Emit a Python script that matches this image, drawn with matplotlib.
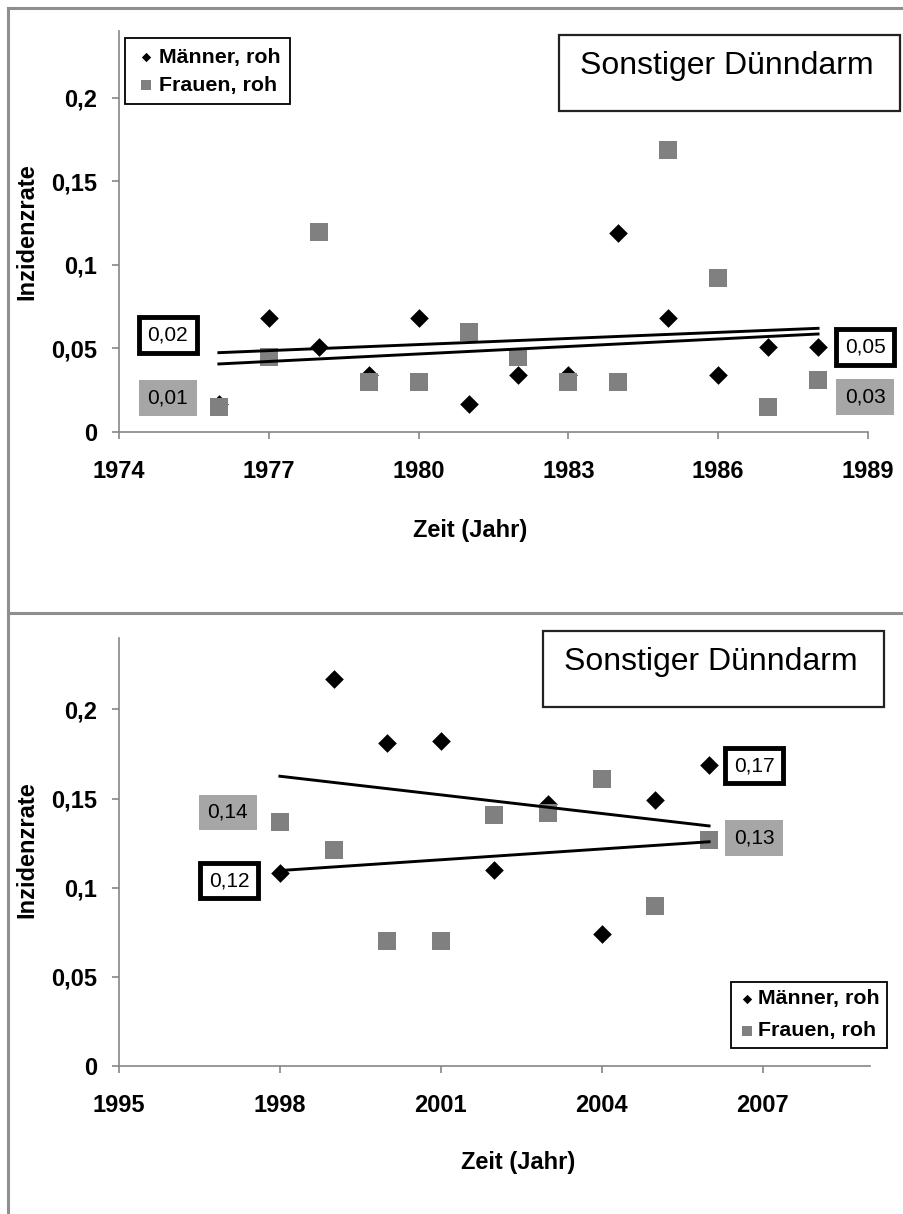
import numpy as np
import matplotlib
matplotlib.use('Agg')
from matplotlib import pyplot as plt
from matplotlib.patches import Rectangle
from matplotlib.lines import Line2D

plt.rcParams['font.family'] = ['Liberation Sans', 'DejaVu Sans']

# --- Daten ---
years_a = np.arange(1976, 1989)
men_a = [0.017, 0.068, 0.051, 0.034, 0.068, 0.017, 0.034, 0.034, 0.119, 0.068, 0.034, 0.051, 0.051]
women_a = [0.015, 0.045, 0.120, 0.030, 0.030, 0.060, 0.045, 0.030, 0.030, 0.169, 0.092, 0.015, 0.031]

years_b = np.arange(1998, 2007)
men_b = [0.108, 0.217, 0.181, 0.182, 0.110, 0.147, 0.074, 0.149, 0.169]
women_b = [0.137, 0.121, 0.070, 0.070, 0.141, 0.142, 0.161, 0.090, 0.127]

yticks = [0, 0.05, 0.1, 0.15, 0.2]
ytick_labels = ['0', '0,05', '0,1', '0,15', '0,2']
xticks_a = [1974, 1977, 1980, 1983, 1986, 1989]
xticks_b = [1995, 1998, 2001, 2004, 2007]

title = 'Sonstiger Dünndarm'
series_names = ['Männer, roh', 'Frauen, roh']
xlabel = 'Zeit (Jahr)'
ylabel = 'Inzidenzrate'

# Beschriftungen an den Trendlinien: Text, x, y, Stil
labels_a = [('0,02', 1974.98, 0.058, 'frame'), ('0,01', 1974.98, 0.0204, 'gray'),
            ('0,05', 1988.94, 0.0509, 'frame'), ('0,03', 1988.94, 0.021, 'gray')]
labels_b = [('0,14', 1997.03, 0.1422, 'gray'), ('0,12', 1997.05, 0.104, 'frame'),
            ('0,17', 2006.84, 0.1685, 'frame'), ('0,13', 2006.84, 0.1277, 'gray')]

W, H = 904, 1214
fig = plt.figure(figsize=(W/100, H/100), dpi=100)

def fx(px): return px / W
def fy(py): return 1 - py / H

# graue Rahmen der beiden Diagramme
frame_col = '#8f8f8f'
for xs, ys in [([8, W], [8, 8]), ([8, 8], [8, H]), ([8, W], [613, 613])]:
    fig.add_artist(Line2D([fx(x) for x in xs], [fy(y) for y in ys], color=frame_col, lw=2.2,
                          transform=fig.transFigure))

def panel(rect, years, men, women, xticks, xlim, labels, leg_loc, leg_xy, leg_kw,
          title_rect, title_xy, xl_xy, yl_xy):
    ax = fig.add_axes(rect)
    # Trendlinien (lineare Regression)
    for vals in (men, women):
        k, d = np.polyfit(years, vals, 1)
        xx = np.array([years[0], years[-1]])
        ax.plot(xx, k*xx + d, color='black', lw=2.1, zorder=4)
    hm = ax.scatter(years, men, marker='D', s=9.5**2, color='black', zorder=2, linewidths=0)
    hw = ax.scatter(years, women, marker='s', s=13.5**2, color='#808080', zorder=3, linewidths=0)
    ax.set_xlim(*xlim)
    ax.set_ylim(0, 0.24)
    ax.set_xticks(xticks)
    ax.set_xticklabels([str(x) for x in xticks], fontsize=17, fontweight='bold')
    ax.set_yticks(yticks)
    ax.set_yticklabels(ytick_labels, fontsize=17, fontweight='bold')
    for s in ['top', 'right']:
        ax.spines[s].set_visible(False)
    for s in ['left', 'bottom']:
        ax.spines[s].set_color('#868686')
        ax.spines[s].set_linewidth(1.2)
    ax.tick_params(axis='both', direction='out', length=5, width=1.2, color='#868686')
    ax.tick_params(axis='x', pad=15)
    ax.tick_params(axis='y', pad=11)
    ax.set_xlabel(xlabel, fontsize=17, fontweight='bold', va='center')
    ax.xaxis.set_label_coords(*xl_xy)
    ax.set_ylabel(ylabel, fontsize=17, fontweight='bold', va='center')
    ax.yaxis.set_label_coords(*yl_xy)
    for txt, x, y, style in labels:
        if style == 'frame':
            bb = dict(boxstyle='square,pad=0.4', fc='white', ec='black', lw=3.5)
        else:
            bb = dict(boxstyle='square,pad=0.4', fc='#a6a6a6', ec='none')
        ax.text(x, y, txt, ha='center', va='center', fontsize=15, bbox=bb, zorder=5)
    leg = ax.legend([hm, hw], series_names, loc=leg_loc, bbox_to_anchor=leg_xy,
                    bbox_transform=fig.transFigure, borderaxespad=0, fancybox=False,
                    edgecolor='black', framealpha=1, prop=dict(weight='bold', size=15.4),
                    handletextpad=0.1, markerscale=0.5, scatterpoints=1, **leg_kw)
    leg.get_frame().set_linewidth(1.3)
    x0, y0, x1, y1 = title_rect
    fig.add_artist(Rectangle((fx(x0), fy(y1)), fx(x1) - fx(x0), fy(y0) - fy(y1), fill=False,
                             ec='#222222', lw=1.6, transform=fig.transFigure))
    fig.text(fx(title_xy[0]), fy(title_xy[1]), title, ha='center', va='center', fontsize=23)
    return ax

panel([fx(119), fy(432), 749/W, 401/H], years_a, men_a, women_a, xticks_a, (1974, 1989), labels_a,
      'upper left', (fx(125), fy(38)), dict(handlelength=1.05, borderpad=0.45, labelspacing=0.42),
      (559, 35, 900, 111), (727, 66), (0.4686, -0.2444), (-0.1228, 0.4988))
panel([fx(119), fy(1066), 751/W, 428/H], years_b, men_b, women_b, xticks_b, (1995, 2009), labels_b,
      'upper right', (fx(887), fy(982)), dict(handlelength=0.8, borderpad=0.35, labelspacing=0.6),
      (543, 631, 884, 707), (711, 662), (0.5313, -0.2266), (-0.1225, 0.5047))

plt.savefig('out.png', dpi=100)
